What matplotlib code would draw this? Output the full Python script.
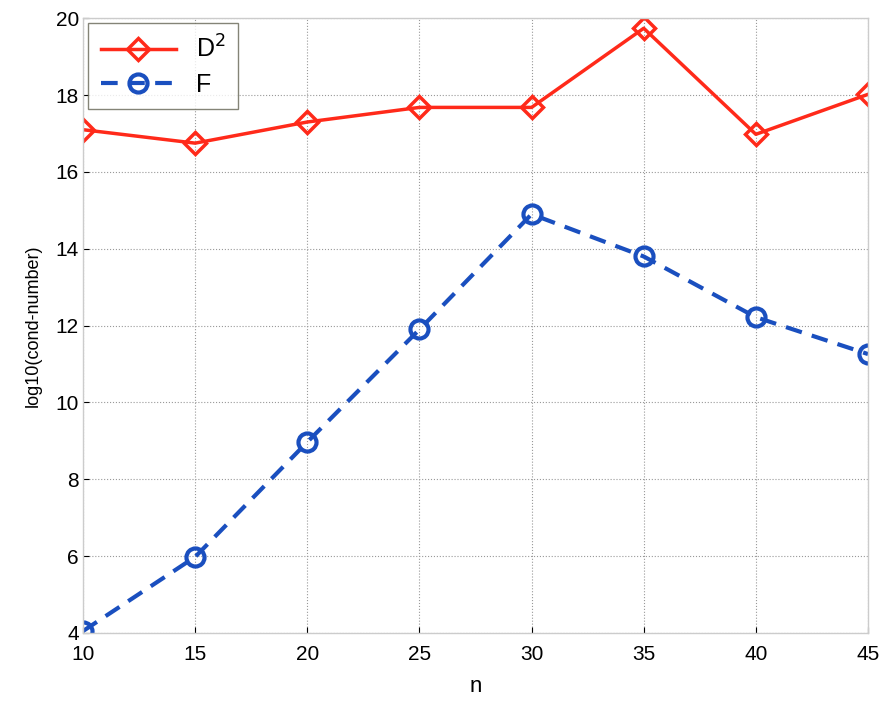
import numpy as np
import matplotlib.pyplot as plt

plt.rcParams['font.family'] = ['Liberation Sans', 'DejaVu Sans']

n = [10, 15, 20, 25, 30, 35, 40, 45]
cond_D2 = [17.1, 16.75, 17.3, 17.68, 17.68, 19.74, 16.98, 18.02]
cond_F = [4.05, 5.98, 8.97, 11.9, 14.9, 13.8, 12.22, 11.26]

fig = plt.figure(figsize=(8.83, 7.03), dpi=100)
ax = fig.add_axes([0.094, 0.0996, 0.889, 0.8744])

ax.plot(n, cond_D2, color='#ff2a1a', lw=2.5, marker='D', ms=11,
        mfc='none', mew=2.5, label='D$^2$')
ax.plot(n, cond_F, color='#1a4fbf', lw=3, ls='--', dashes=(4, 2.5),
        marker='o', ms=13, mfc='none', mew=3, label='F')

ax.set_xlim(10, 45)
ax.set_ylim(4, 20)
ax.set_xticks(np.arange(10, 46, 5))
ax.set_yticks(np.arange(4, 21, 2))
ax.tick_params(labelsize=15, direction='in', length=4)
ax.tick_params(axis='x', pad=9)
ax.tick_params(axis='y', pad=3)
ax.grid(True, ls=':', color='#999999', lw=0.8)
ax.set_xlabel('n', fontsize=16, labelpad=8)
ax.set_ylabel('log10(cond-number)', fontsize=13, labelpad=10)

for sp in ax.spines.values():
    sp.set_color('#cccccc')
    sp.set_linewidth(1)

leg = ax.legend(loc='upper left', fontsize=18, handlelength=3.0,
                fancybox=False, edgecolor='#666655', borderaxespad=0.2,
                borderpad=0.5, labelspacing=0.4)
leg.get_frame().set_linewidth(1)

fig.savefig('out.png', dpi=100)
